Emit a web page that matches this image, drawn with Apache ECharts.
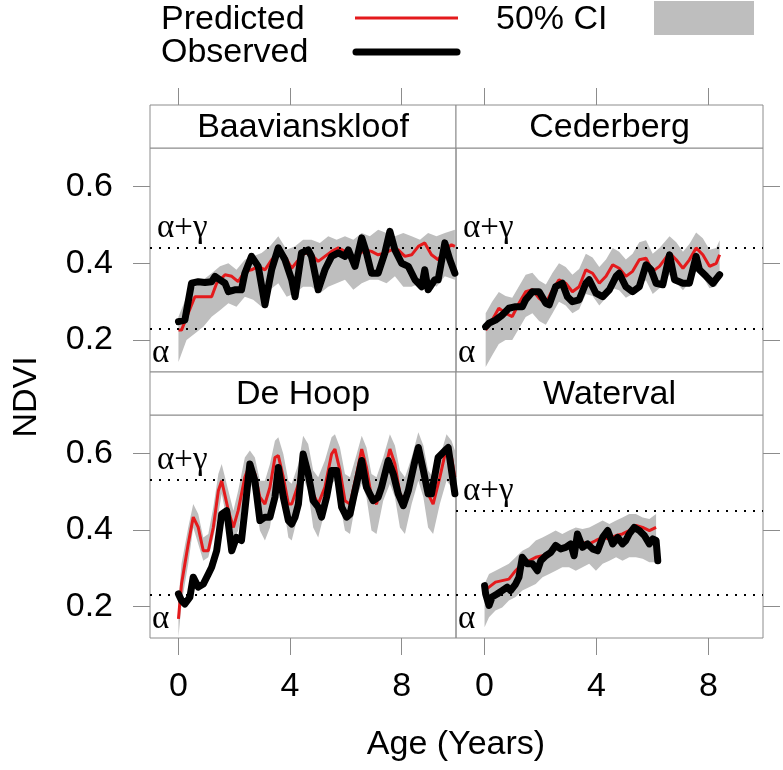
<!DOCTYPE html>
<html>
<head>
<meta charset="utf-8">
<script src="https://cdn.jsdelivr.net/npm/echarts@6/dist/echarts.min.js"></script>
<style>
    html, body { margin: 0; padding: 0; background: #fff; }
    #chart { width: 783px; height: 770px; }
</style>
</head>
<body>
<div id="chart"></div>
<script>
    // panel names, in lattice order (top-left, top-right, bottom-left, bottom-right)
    var sites = ['Baavianskloof', 'Cederberg', 'De Hoop', 'Waterval'];
    var ageTicks = [0, 4, 8];
    var ndviTicks = [0.2, 0.4, 0.6];

    // dotted reference levels: [alpha, alpha+gamma]
    var baaLevels = [0.234, 0.438];
    var cedLevels = [0.233, 0.442];
    var dhLevels = [0.232, 0.531];
    var watLevels = [0.232, 0.448];

    // Baavianskloof
    var baaObserved = [[0.00,0.248],[0.23,0.252],[0.47,0.348],[0.71,0.352],[0.95,0.350],[1.19,0.352],[1.31,0.366],[1.49,0.357],[1.67,0.348],[1.79,0.326],[2.02,0.331],[2.26,0.331],[2.38,0.374],[2.62,0.418],[2.86,0.392],[3.10,0.292],[3.34,0.383],[3.58,0.440],[3.82,0.409],[4.06,0.357],[4.18,0.313],[4.41,0.427],[4.65,0.435],[4.77,0.418],[5.01,0.331],[5.25,0.383],[5.49,0.418],[5.73,0.427],[5.97,0.418],[6.09,0.435],[6.33,0.392],[6.57,0.466],[6.74,0.427],[6.92,0.374],[7.16,0.374],[7.40,0.427],[7.58,0.483],[7.76,0.435],[8.00,0.400],[8.24,0.392],[8.48,0.357],[8.72,0.339],[8.83,0.383],[8.95,0.331],[9.19,0.357],[9.31,0.357],[9.55,0.453],[9.73,0.409],[9.91,0.374]];
    var baaPredicted = [[0.00,0.226],[0.11,0.226],[0.35,0.270],[0.59,0.313],[0.83,0.313],[1.19,0.313],[1.37,0.348],[1.67,0.370],[1.91,0.366],[2.14,0.352],[2.38,0.379],[2.62,0.383],[2.86,0.392],[3.10,0.383],[3.34,0.409],[3.58,0.427],[3.82,0.418],[4.06,0.387],[4.30,0.409],[4.53,0.427],[4.77,0.422],[5.01,0.405],[5.25,0.418],[5.49,0.431],[5.73,0.440],[5.97,0.431],[6.21,0.409],[6.45,0.422],[6.68,0.435],[6.92,0.431],[7.16,0.422],[7.40,0.427],[7.64,0.435],[7.88,0.435],[8.12,0.418],[8.36,0.422],[8.60,0.444],[8.83,0.453],[9.07,0.422],[9.31,0.409],[9.55,0.435],[9.79,0.448],[9.91,0.444]];
    var baaCiAge = [0.00,0.29,0.59,0.89,1.19,1.49,1.79,2.08,2.38,2.68,2.98,3.28,3.58,3.88,4.18,4.47,4.77,5.07,5.37,5.67,5.97,6.27,6.57,6.86,7.16,7.46,7.76,8.06,8.36,8.66,8.95,9.25,9.55,9.91];
    var baaCiLow = [0.143,0.200,0.217,0.235,0.261,0.278,0.296,0.287,0.313,0.305,0.287,0.331,0.348,0.313,0.322,0.339,0.339,0.322,0.339,0.348,0.357,0.331,0.348,0.357,0.357,0.348,0.366,0.339,0.339,0.348,0.357,0.339,0.366,0.357];
    var baaCiHigh = [0.261,0.313,0.339,0.357,0.374,0.392,0.400,0.383,0.409,0.418,0.427,0.444,0.470,0.435,0.444,0.461,0.461,0.453,0.470,0.461,0.470,0.461,0.479,0.470,0.487,0.479,0.470,0.479,0.470,0.461,0.479,0.470,0.479,0.487];

    // Cederberg
    var cedObserved = [[0.04,0.235],[0.16,0.244],[0.39,0.252],[0.63,0.265],[0.87,0.283],[1.11,0.287],[1.35,0.287],[1.47,0.305],[1.71,0.326],[1.95,0.326],[2.19,0.296],[2.31,0.292],[2.54,0.339],[2.78,0.348],[2.96,0.313],[3.14,0.300],[3.38,0.305],[3.62,0.348],[3.74,0.357],[3.98,0.322],[4.22,0.313],[4.46,0.331],[4.70,0.366],[4.81,0.374],[5.05,0.339],[5.29,0.326],[5.53,0.339],[5.77,0.396],[5.95,0.383],[6.13,0.348],[6.37,0.344],[6.61,0.422],[6.79,0.357],[7.09,0.348],[7.32,0.348],[7.56,0.418],[7.68,0.383],[7.92,0.366],[8.16,0.348],[8.40,0.370]];
    var cedPredicted = [[0.04,0.226],[0.27,0.252],[0.51,0.283],[0.75,0.270],[0.99,0.261],[1.23,0.296],[1.47,0.326],[1.71,0.331],[1.95,0.309],[2.19,0.296],[2.43,0.331],[2.66,0.357],[2.90,0.348],[3.14,0.326],[3.38,0.339],[3.62,0.383],[3.86,0.374],[4.10,0.348],[4.34,0.366],[4.58,0.396],[4.81,0.387],[5.05,0.366],[5.29,0.379],[5.53,0.409],[5.77,0.413],[6.01,0.379],[6.25,0.392],[6.61,0.427],[6.85,0.409],[7.09,0.387],[7.32,0.409],[7.56,0.440],[7.80,0.422],[8.04,0.392],[8.28,0.400],[8.40,0.422]];
    var cedCiAge = [0.04,0.27,0.51,0.75,0.99,1.23,1.47,1.71,1.95,2.19,2.43,2.66,2.90,3.14,3.38,3.62,3.86,4.10,4.34,4.58,4.81,5.05,5.29,5.53,5.77,6.01,6.25,6.61,6.85,7.09,7.32,7.56,7.80,8.04,8.28,8.40];
    var cedCiLow = [0.13,0.16,0.19,0.20,0.20,0.23,0.26,0.27,0.25,0.24,0.27,0.30,0.29,0.27,0.28,0.32,0.315,0.29,0.31,0.335,0.33,0.31,0.32,0.35,0.355,0.32,0.335,0.37,0.35,0.33,0.35,0.38,0.365,0.335,0.34,0.36];
    var cedCiHigh = [0.27,0.30,0.325,0.315,0.31,0.34,0.37,0.375,0.355,0.345,0.375,0.40,0.39,0.37,0.385,0.425,0.415,0.39,0.41,0.44,0.43,0.41,0.425,0.455,0.46,0.425,0.44,0.47,0.455,0.43,0.45,0.48,0.465,0.435,0.44,0.46];

    // De Hoop
    var dhObserved = [[0.00,0.232],[0.11,0.215],[0.23,0.206],[0.41,0.224],[0.53,0.276],[0.71,0.250],[0.89,0.258],[1.07,0.284],[1.19,0.302],[1.37,0.345],[1.55,0.441],[1.73,0.450],[1.91,0.345],[2.08,0.380],[2.26,0.372],[2.38,0.450],[2.56,0.572],[2.74,0.528],[2.92,0.424],[3.10,0.433],[3.28,0.433],[3.46,0.485],[3.58,0.563],[3.76,0.485],[3.94,0.424],[4.06,0.415],[4.18,0.433],[4.30,0.467],[4.47,0.598],[4.65,0.546],[4.83,0.476],[5.01,0.459],[5.13,0.433],[5.31,0.485],[5.49,0.555],[5.67,0.555],[5.85,0.459],[6.03,0.433],[6.15,0.441],[6.33,0.502],[6.57,0.581],[6.74,0.511],[6.98,0.476],[7.16,0.485],[7.28,0.511],[7.52,0.581],[7.70,0.546],[7.88,0.494],[8.06,0.463],[8.24,0.502],[8.48,0.581],[8.60,0.615],[8.78,0.555],[8.95,0.494],[9.07,0.494],[9.31,0.589],[9.55,0.607],[9.67,0.615],[9.79,0.555],[9.91,0.494]];
    var dhPredicted = [[0.00,0.167],[0.11,0.258],[0.35,0.363],[0.53,0.433],[0.71,0.406],[0.89,0.345],[1.07,0.345],[1.25,0.406],[1.43,0.502],[1.55,0.528],[1.79,0.450],[1.97,0.406],[2.14,0.450],[2.38,0.537],[2.56,0.572],[2.74,0.546],[2.92,0.485],[3.10,0.467],[3.28,0.511],[3.46,0.589],[3.58,0.594],[3.76,0.537],[3.94,0.467],[4.06,0.467],[4.30,0.520],[4.47,0.598],[4.65,0.563],[4.83,0.494],[5.01,0.467],[5.25,0.511],[5.49,0.598],[5.61,0.611],[5.79,0.555],[5.97,0.476],[6.15,0.467],[6.39,0.546],[6.57,0.611],[6.74,0.563],[6.92,0.485],[7.10,0.467],[7.34,0.537],[7.58,0.611],[7.76,0.572],[7.94,0.494],[8.12,0.472],[8.36,0.537],[8.60,0.611],[8.78,0.572],[8.95,0.494],[9.13,0.467],[9.37,0.537],[9.61,0.615],[9.79,0.589],[9.91,0.537]];
    var dhCiAge = [0.00,0.11,0.35,0.53,0.71,0.89,1.07,1.25,1.43,1.55,1.79,1.97,2.14,2.38,2.56,2.74,2.92,3.10,3.28,3.46,3.58,3.76,3.94,4.06,4.30,4.47,4.65,4.83,5.01,5.25,5.49,5.61,5.79,5.97,6.15,6.39,6.57,6.74,6.92,7.10,7.34,7.58,7.76,7.94,8.12,8.36,8.60,8.78,8.95,9.13,9.37,9.61,9.79,9.91];
    var dhCiLow = [0.119,0.206,0.311,0.406,0.363,0.319,0.328,0.380,0.441,0.494,0.406,0.372,0.398,0.494,0.528,0.485,0.398,0.372,0.406,0.494,0.528,0.467,0.380,0.372,0.441,0.537,0.502,0.406,0.380,0.450,0.520,0.528,0.467,0.398,0.389,0.485,0.520,0.485,0.398,0.389,0.476,0.520,0.485,0.406,0.389,0.467,0.528,0.485,0.406,0.389,0.467,0.528,0.511,0.494];
    var dhCiHigh = [0.215,0.311,0.406,0.467,0.441,0.380,0.389,0.459,0.546,0.572,0.502,0.450,0.502,0.589,0.607,0.589,0.528,0.528,0.572,0.633,0.642,0.598,0.528,0.520,0.572,0.646,0.624,0.555,0.537,0.581,0.642,0.650,0.615,0.546,0.537,0.598,0.646,0.615,0.546,0.537,0.589,0.650,0.620,0.555,0.537,0.589,0.655,0.620,0.555,0.537,0.589,0.650,0.633,0.607];

    // Waterval
    var watObserved = [[0.00,0.254],[0.04,0.232],[0.16,0.202],[0.27,0.224],[0.45,0.232],[0.63,0.241],[0.81,0.250],[0.93,0.241],[1.11,0.258],[1.23,0.276],[1.35,0.328],[1.53,0.311],[1.71,0.311],[1.89,0.293],[2.01,0.319],[2.19,0.332],[2.37,0.341],[2.54,0.359],[2.72,0.350],[2.90,0.354],[3.08,0.363],[3.20,0.332],[3.32,0.389],[3.50,0.354],[3.68,0.363],[3.86,0.350],[4.04,0.345],[4.22,0.380],[4.40,0.398],[4.58,0.363],[4.76,0.380],[4.93,0.363],[5.05,0.372],[5.17,0.389],[5.35,0.406],[5.53,0.398],[5.71,0.385],[5.89,0.363],[6.01,0.376],[6.13,0.372],[6.19,0.319]];
    var watPredicted = [[0.00,0.241],[0.16,0.250],[0.39,0.263],[0.63,0.267],[0.87,0.271],[1.11,0.293],[1.35,0.311],[1.59,0.319],[1.83,0.328],[2.07,0.332],[2.31,0.341],[2.54,0.350],[2.78,0.354],[3.02,0.363],[3.26,0.359],[3.50,0.367],[3.74,0.363],[3.98,0.372],[4.22,0.380],[4.46,0.376],[4.70,0.385],[4.93,0.389],[5.17,0.398],[5.41,0.411],[5.65,0.406],[5.89,0.398],[6.13,0.406]];
    var watCiAge = [0.00,0.16,0.39,0.63,0.87,1.11,1.35,1.59,1.83,2.07,2.31,2.54,2.78,3.02,3.26,3.50,3.74,3.98,4.22,4.46,4.70,4.93,5.17,5.41,5.65,5.89,6.13];
    var watCiLow = [0.145,0.171,0.189,0.197,0.215,0.224,0.241,0.250,0.258,0.276,0.284,0.293,0.302,0.302,0.293,0.302,0.311,0.293,0.311,0.319,0.328,0.319,0.328,0.328,0.324,0.315,0.315];
    var watCiHigh = [0.258,0.284,0.293,0.302,0.311,0.328,0.345,0.354,0.372,0.380,0.389,0.398,0.389,0.398,0.406,0.402,0.406,0.415,0.424,0.415,0.424,0.432,0.441,0.441,0.432,0.428,0.441];

    var panels = [
        { obs: baaObserved, pred: baaPredicted, ciAge: baaCiAge, lo: baaCiLow, hi: baaCiHigh, lv: baaLevels },
        { obs: cedObserved, pred: cedPredicted, ciAge: cedCiAge, lo: cedCiLow, hi: cedCiHigh, lv: cedLevels },
        { obs: dhObserved, pred: dhPredicted, ciAge: dhCiAge, lo: dhCiLow, hi: dhCiHigh, lv: dhLevels },
        { obs: watObserved, pred: watPredicted, ciAge: watCiAge, lo: watCiLow, hi: watCiHigh, lv: watLevels }
    ];

    // layout
    var SANS = '"Liberation Sans", Arial, Helvetica, sans-serif';
    var SERIF = '"Liberation Serif", "Times New Roman", serif';
    var FRAME = '#8c8c8c';
    var colLeft = [150, 456], colWidth = [306, 307];
    var rowTop = [148, 415], rowHeight = [224, 223];
    var stripH = 43;

    var grids = [], xAxes = [], yAxes = [], series = [], graphics = [];

    // polygon for the CI band: upper edge left->right, lower edge right->left
    function bandRenderer(n) {
        return function (params, api) {
            if (params.dataIndex !== 0) return null;
            var upper = [], lower = [];
            for (var k = 0; k < n; k++) {
                upper.push(api.coord([api.value(0, k), api.value(2, k)]));
                lower.unshift(api.coord([api.value(0, k), api.value(1, k)]));
            }
            return {
                type: 'polygon',
                shape: { points: upper.concat(lower) },
                style: { fill: '#bebebe' }
            };
        };
    }

    panels.forEach(function (p, i) {
        var col = i % 2, row = Math.floor(i / 2);
        grids.push({
            left: colLeft[col], top: rowTop[row], width: colWidth[col], height: rowHeight[row],
            show: true, borderColor: FRAME, borderWidth: 1, outerBoundsMode: 'none'
        });
        xAxes.push({
            type: 'value', gridIndex: i, min: -1.02, max: 9.95,
            position: row === 0 ? 'top' : 'bottom',
            offset: row === 0 ? stripH : 0,
            axisLine: { show: false, onZero: false },
            splitLine: { show: false },
            axisTick: { show: true, inside: false, length: 17, customValues: ageTicks, lineStyle: { color: FRAME } },
            axisLabel: { show: row === 1, customValues: ageTicks, margin: 32, fontSize: 34, color: '#000', fontFamily: SANS }
        });
        yAxes.push({
            type: 'value', gridIndex: i, min: 0.117, max: 0.70,
            position: col === 0 ? 'left' : 'right',
            axisLine: { show: false, onZero: false },
            splitLine: { show: false },
            axisTick: { show: true, inside: false, length: 17, customValues: ndviTicks, lineStyle: { color: FRAME } },
            axisLabel: {
                show: col === 0, customValues: ndviTicks, margin: 37, fontSize: 34, color: '#000', fontFamily: SANS,
                formatter: function (v) { return v.toFixed(1); }
            }
        });

        // 50% CI band
        var band = p.ciAge.map(function (a, k) { return [a, p.lo[k], p.hi[k]]; });
        series.push({
            type: 'custom', xAxisIndex: i, yAxisIndex: i, data: band, clip: true, silent: true, z: 1,
            encode: { x: 0, y: [1, 2] },
            renderItem: bandRenderer(band.length)
        });
        series.push({
            type: 'line', xAxisIndex: i, yAxisIndex: i, data: p.pred,
            symbol: 'none', silent: true, lineStyle: { color: '#e41a1c', width: 3 }, z: 3,
            markLine: {
                silent: true, symbol: 'none', animation: false,
                lineStyle: { color: '#000', width: 2, type: [2, 7] },
                data: [
                    { yAxis: p.lv[0], label: { show: true, formatter: 'α', position: 'insideStartBottom', distance: [2, 8], fontFamily: SERIF, fontSize: 33, color: '#000' } },
                    { yAxis: p.lv[1], label: { show: true, formatter: 'α+γ', position: 'insideStartTop', distance: [7, 3], fontFamily: SERIF, fontSize: 33, color: '#000' } }
                ]
            }
        });
        series.push({
            type: 'line', xAxisIndex: i, yAxisIndex: i, data: p.obs,
            symbol: 'none', silent: true, lineStyle: { color: '#000', width: 7, cap: 'round', join: 'round' }, z: 4
        });

        // strip above each panel
        graphics.push({
            type: 'rect', shape: { x: colLeft[col], y: rowTop[row] - stripH, width: colWidth[col], height: stripH },
            style: { fill: '#fff', stroke: FRAME, lineWidth: 1 }
        });
        graphics.push({
            type: 'text', x: colLeft[col] + colWidth[col] / 2, y: rowTop[row] - stripH / 2 + 1,
            style: { text: sites[i], fill: '#000', font: '34px ' + SANS, textAlign: 'center', textVerticalAlign: 'middle' }
        });
    });

    // legend on top
    graphics.push(
        { type: 'text', x: 161, y: 20, style: { text: 'Predicted', fill: '#000', font: '34px ' + SANS, textAlign: 'left', textVerticalAlign: 'middle' } },
        { type: 'line', shape: { x1: 355, y1: 18, x2: 458, y2: 18 }, style: { stroke: '#e41a1c', lineWidth: 3 } },
        { type: 'text', x: 496, y: 20, style: { text: '50% CI', fill: '#000', font: '34px ' + SANS, textAlign: 'left', textVerticalAlign: 'middle' } },
        { type: 'rect', shape: { x: 654, y: 1, width: 100, height: 34 }, style: { fill: '#bebebe' } },
        { type: 'text', x: 161, y: 53, style: { text: 'Observed', fill: '#000', font: '34px ' + SANS, textAlign: 'left', textVerticalAlign: 'middle' } },
        { type: 'line', shape: { x1: 356, y1: 52, x2: 457, y2: 52 }, style: { stroke: '#000', lineWidth: 7, lineCap: 'round' } },
        // axis titles
        { type: 'text', x: 27, y: 397, rotation: Math.PI / 2, style: { text: 'NDVI', fill: '#000', font: '34px ' + SANS, textAlign: 'center', textVerticalAlign: 'middle' } },
        { type: 'text', x: 456, y: 745, style: { text: 'Age (Years)', fill: '#000', font: '34px ' + SANS, textAlign: 'center', textVerticalAlign: 'middle' } }
    );

    var myChart = echarts.init(document.getElementById('chart'), null, { renderer: 'canvas' });
    myChart.setOption({
        animation: false,
        backgroundColor: '#fff',
        grid: grids,
        xAxis: xAxes,
        yAxis: yAxes,
        series: series,
        graphic: graphics
    });
</script>
</body>
</html>
